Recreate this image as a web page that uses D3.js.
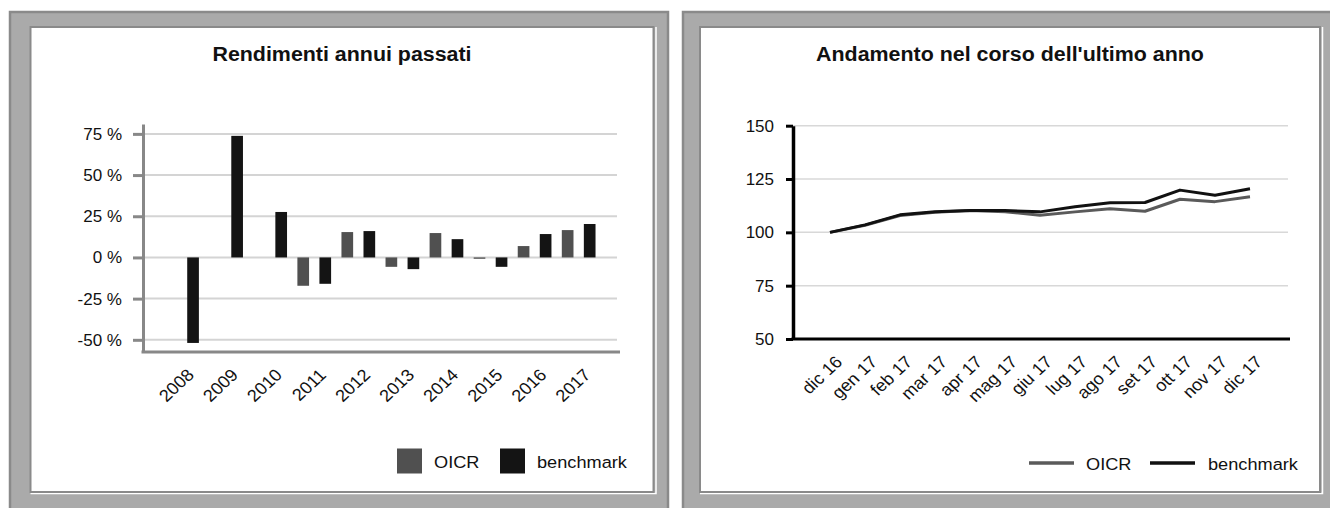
<!DOCTYPE html>
<html>
<head>
<meta charset="utf-8">
<script src="https://cdn.jsdelivr.net/npm/d3@7"></script>
<style>
  html, body { margin: 0; padding: 0; background: #fff; }
  svg { display: block; font-family: "Liberation Sans", Arial, sans-serif; }
</style>
</head>
<body>
<svg id="chart" width="1330" height="508"></svg>
<script>
// dati grafico a barre
const years = ['2008', '2009', '2010', '2011', '2012', '2013', '2014', '2015', '2016', '2017'];
const series = ['OICR', 'benchmark'];
const oicrReturns = [null, null, null, -17.2, 15.4, -5.7, 14.8, -0.8, 6.9, 16.6];
const benchReturns = [-51.9, 73.8, 27.6, -16.0, 16.0, -7.1, 11.1, -5.7, 14.2, 20.3];
const pctTicks = [-50, -25, 0, 25, 50, 75];

// dati grafico a linee
const months = ['dic 16', 'gen 17', 'feb 17', 'mar 17', 'apr 17', 'mag 17', 'giu 17',
  'lug 17', 'ago 17', 'set 17', 'ott 17', 'nov 17', 'dic 17'];
const oicrIndex = [100, 103.3, 107.9, 109.4, 110.2, 109.7, 108.0, 109.6, 111.1, 109.9, 115.5, 114.4, 116.7];
const benchIndex = [100, 103.5, 108.2, 109.7, 110.3, 110.2, 109.6, 112.0, 113.9, 114.0, 119.8, 117.4, 120.4];
const idxTicks = [50, 75, 100, 125, 150];

const colors = { OICR: '#505050', benchmark: '#141414' };
const frameGrey = '#aaaaaa';
const frameDark = '#8a8a8a';

const svg = d3.select('#chart');

// cornice con effetto rilievo
function drawFrame(x0, x1, ix0, ix1) {
  const g = svg.append('g');
  g.append('rect').attr('x', x0).attr('y', 12).attr('width', x1 - x0).attr('height', 520)
    .attr('fill', frameGrey).attr('stroke', frameDark).attr('stroke-width', 2.5);
  g.append('path')
    .attr('d', `M${ix1 + 2.5},27 V${493.5} H${ix0}`)
    .attr('fill', 'none').attr('stroke', '#fff').attr('stroke-width', 1.5);
  g.append('rect').attr('x', ix0).attr('y', 27).attr('width', ix1 - ix0).attr('height', 465)
    .attr('fill', '#fff').attr('stroke', frameDark).attr('stroke-width', 2);
}
drawFrame(10, 668, 30.5, 653.5);
drawFrame(683, 1340, 700, 1320);

function title(cx, text) {
  svg.append('text')
    .attr('transform', `translate(${cx},60.5) scale(1.07,1)`)
    .attr('text-anchor', 'middle')
    .attr('font-size', 20).attr('font-weight', 'bold').attr('fill', '#111')
    .text(text);
}

// etichette ruotate a -45°
function slantLabels(sel) {
  sel.selectAll('.tick text')
    .attr('x', 0).attr('y', 0).attr('dy', 0)
    .attr('text-anchor', 'end')
    .attr('transform', 'translate(13,24) scale(1.07,1) rotate(-45)')
    .attr('font-size', 17).attr('fill', '#111')
    .attr('font-family', '"Liberation Sans", Arial, sans-serif');
}

// ---------- barre ----------
title(342, 'Rendimenti annui passati');

const x0 = d3.scaleBand().domain(years).range([160, 600.7]);
const x1 = d3.scaleBand().domain(series).range([0, x0.bandwidth()])
  .paddingInner(0.47).paddingOuter(0.235);
const yL = d3.scaleLinear().domain([-57.4, 81]).range([352, 124]);

const gridL = svg.append('g');
gridL.selectAll('line').data(pctTicks).join('line')
  .attr('x1', 143).attr('x2', 617)
  .attr('y1', d => yL(d)).attr('y2', d => yL(d))
  .attr('stroke', '#d4d4d4').attr('stroke-width', 2);

const barRows = years.map((y, i) => ({ year: y, OICR: oicrReturns[i], benchmark: benchReturns[i] }));
svg.append('g').selectAll('g').data(barRows).join('g')
  .attr('transform', d => `translate(${x0(d.year)},0)`)
  .selectAll('rect')
  .data(d => series.map(s => ({ key: s, value: d[s] })).filter(v => v.value != null))
  .join('rect')
  .attr('x', d => x1(d.key))
  .attr('width', x1.bandwidth())
  .attr('y', d => yL(Math.max(0, d.value)))
  .attr('height', d => Math.abs(yL(d.value) - yL(0)))
  .attr('fill', d => colors[d.key]);

const axL = svg.append('g').attr('transform', 'translate(143,0)')
  .call(d3.axisLeft(yL).tickValues(pctTicks).tickSize(10).tickSizeOuter(0).tickPadding(11)
    .tickFormat(d => d + ' %'));
axL.select('.domain').attr('stroke', '#888').attr('stroke-width', 3);
axL.selectAll('.tick line').attr('stroke', '#888').attr('stroke-width', 3);
axL.selectAll('.tick text').attr('font-size', 17).attr('fill', '#111')
  .attr('font-family', '"Liberation Sans", Arial, sans-serif');

svg.append('line').attr('x1', 141.5).attr('x2', 620).attr('y1', 352).attr('y2', 352)
  .attr('stroke', '#888').attr('stroke-width', 3);

const xAxL = svg.append('g').attr('transform', 'translate(0,352)')
  .call(d3.axisBottom(x0).tickSize(0));
xAxL.select('.domain').remove();
slantLabels(xAxL);

const legL = svg.append('g');
const legLItems = [{ key: 'OICR', x: 397 }, { key: 'benchmark', x: 500 }];
legL.selectAll('rect').data(legLItems).join('rect')
  .attr('x', d => d.x).attr('y', 448.5).attr('width', 25).attr('height', 25)
  .attr('fill', d => colors[d.key]);
legL.selectAll('text').data(legLItems).join('text')
  .attr('transform', d => `translate(${d.x + 37},467.5) scale(1.07,1)`)
  .attr('font-size', 17).attr('fill', '#111')
  .text(d => d.key);

// ---------- linee ----------
title(1010, "Andamento nel corso dell'ultimo anno");

const xR = d3.scalePoint().domain(months).range([830, 1250]);
const yR = d3.scaleLinear().domain([50, 150]).range([339, 125.7]);

svg.append('g').selectAll('line').data(idxTicks.filter(d => d > 50)).join('line')
  .attr('x1', 793).attr('x2', 1288)
  .attr('y1', d => yR(d)).attr('y2', d => yR(d))
  .attr('stroke', '#d8d8d8').attr('stroke-width', 1.5);

const line = d3.line().x((d, i) => xR(months[i])).y(d => yR(d));
[['OICR', oicrIndex], ['benchmark', benchIndex]].forEach(([k, vals]) => {
  svg.append('path').datum(vals)
    .attr('d', line)
    .attr('fill', 'none')
    .attr('stroke', k === 'OICR' ? '#5a5a5a' : '#111')
    .attr('stroke-width', 3)
    .attr('stroke-linejoin', 'round');
});

const axR = svg.append('g').attr('transform', 'translate(793,0)')
  .call(d3.axisLeft(yR).tickValues(idxTicks).tickSize(7).tickSizeOuter(0).tickPadding(12));
axR.select('.domain').attr('stroke', '#000').attr('stroke-width', 3.5);
axR.selectAll('.tick line').attr('stroke', '#000').attr('stroke-width', 3);
axR.selectAll('.tick text').attr('font-size', 17).attr('fill', '#111')
  .attr('font-family', '"Liberation Sans", Arial, sans-serif');

svg.append('line').attr('x1', 791.5).attr('x2', 1290).attr('y1', 339).attr('y2', 339)
  .attr('stroke', '#000').attr('stroke-width', 3);

const xAxR = svg.append('g').attr('transform', 'translate(0,339)')
  .call(d3.axisBottom(xR).tickSize(0));
xAxR.select('.domain').remove();
slantLabels(xAxR);

const legR = svg.append('g');
const legRItems = [
  { key: 'OICR', x: 1029, tx: 1086, c: '#5a5a5a' },
  { key: 'benchmark', x: 1150, tx: 1208, c: '#111' }
];
legR.selectAll('line').data(legRItems).join('line')
  .attr('x1', d => d.x).attr('x2', d => d.x + 45)
  .attr('y1', 463).attr('y2', 463)
  .attr('stroke', d => d.c).attr('stroke-width', 3.5);
legR.selectAll('text').data(legRItems).join('text')
  .attr('transform', d => `translate(${d.tx},470) scale(1.07,1)`)
  .attr('font-size', 17).attr('fill', '#111')
  .text(d => d.key);
</script>
</body>
</html>
